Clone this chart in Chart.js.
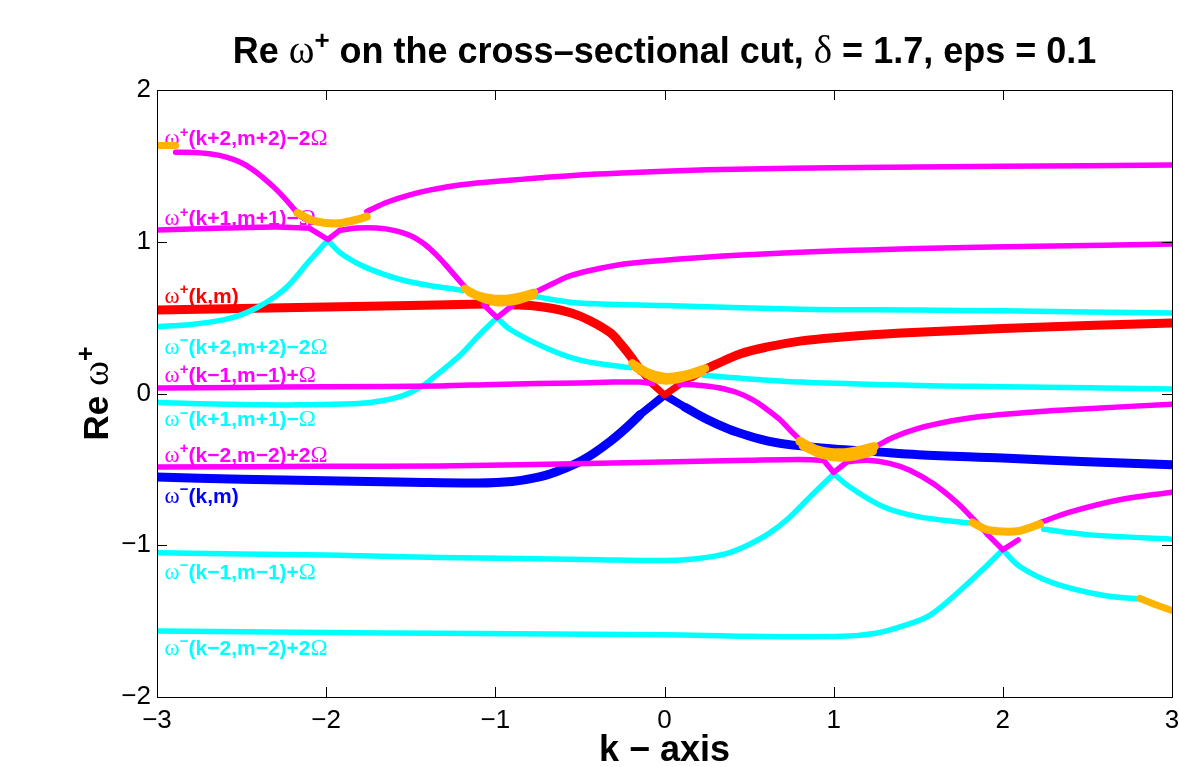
<!DOCTYPE html>
<html>
<head>
<meta charset="utf-8">
<script src="https://cdn.jsdelivr.net/npm/chart.js@4.4.1/dist/chart.umd.min.js"></script>
<style>
  html, body { margin: 0; padding: 0; background: #fff; }
  canvas { display: block; }
</style>
</head>
<body>
<canvas id="chart" width="1179" height="767"></canvas>
<script>
// ---- axis ticks ----
const xTickValues = [-3, -2, -1, 0, 1, 2, 3];
const xTickLabels = ['\u22123', '\u22122', '\u22121', '0', '1', '2', '3'];
const yTickValues = [-2, -1, 0, 1, 2];
const yTickLabels = ['\u22122', '\u22121', '0', '1', '2'];

// ---- branch values, [k, Re omega] ----
// omega+(k,m)
const redPlusA = [[-3, 0.55], [-2.5, 0.56], [-2, 0.57], [-1.5, 0.58], [-1.06, 0.59]];
const redPlusB = [[-0.9, 0.585], [-0.78, 0.578], [-0.66, 0.56], [-0.55, 0.53], [-0.44, 0.48], [-0.32, 0.40], [-0.25, 0.315], [-0.2, 0.245], [-0.14, 0.15]];
const redPlusV = [[-0.14, 0.15], [-0.07, 0.06], [0, -0.01], [0.09, 0.06], [0.16, 0.11]];
const redPlusC = [[0.16, 0.11], [0.23, 0.155], [0.3, 0.19], [0.45, 0.262], [0.6, 0.305], [0.8, 0.345], [1.0, 0.368], [1.4, 0.398], [2.0, 0.428], [2.5, 0.448], [3, 0.465]];
// omega-(k,m)
const blueMinusA = [[-3, -0.55], [-2.5, -0.565], [-2, -0.575], [-1.5, -0.585], [-1.1, -0.59], [-0.9, -0.58], [-0.76, -0.555], [-0.64, -0.515], [-0.52, -0.46], [-0.42, -0.395], [-0.32, -0.315], [-0.23, -0.23], [-0.145, -0.14]];
const blueMinusV = [[-0.145, -0.14], [0, -0.01], [0.12, -0.09]];
const blueMinusB = [[0.12, -0.09], [0.25, -0.17], [0.38, -0.235], [0.5, -0.28], [0.62, -0.315], [0.76, -0.34], [1.0, -0.365], [1.24, -0.383], [1.5, -0.403], [2.0, -0.425], [2.5, -0.45], [3, -0.47]];
// omega+(k+2,m+2)-2Omega
const magP2a = [[-2.89, 1.59], [-2.78, 1.588], [-2.68, 1.578], [-2.59, 1.558], [-2.51, 1.525], [-2.44, 1.48], [-2.37, 1.42], [-2.3, 1.35], [-2.24, 1.28], [-2.19, 1.215], [-2.15, 1.165]];
const magP2b = [[-1.76, 1.20], [-1.64, 1.26], [-1.5, 1.31], [-1.39, 1.34], [-1.2, 1.375], [-0.97, 1.40], [-0.5, 1.44], [0, 1.465], [0.5, 1.48], [1, 1.487], [2, 1.497], [3, 1.505]];
// omega+(k+1,m+1)-Omega
const magP1a = [[-3, 1.077], [-2.6, 1.09], [-2.3, 1.097], [-2.1, 1.09]];
const magP1V = [[-2.1, 1.09], [-1.99, 1.015], [-1.92, 1.075]];
const magP1b = [[-1.92, 1.075], [-1.82, 1.09], [-1.7, 1.09], [-1.6, 1.075], [-1.5, 1.04], [-1.42, 0.985], [-1.35, 0.915], [-1.28, 0.83], [-1.21, 0.74], [-1.17, 0.69]];
const magP1c = [[-0.77, 0.665], [-0.65, 0.73], [-0.56, 0.775], [-0.38, 0.825], [-0.2, 0.858], [0.2, 0.895], [0.8, 0.93], [1.5, 0.955], [2.2, 0.97], [3, 0.985]];
const magV1 = [[-1.07, 0.585], [-0.99, 0.50], [-0.9, 0.58]];
// omega+(k-1,m-1)+Omega
const magM1a = [[-3, 0.036], [-2.5, 0.04], [-2, 0.045], [-1.33, 0.05], [-1, 0.06], [-0.5, 0.07], [-0.3, 0.076], [-0.15, 0.075], [-0.07, 0.065]];
const magM1b = [[0.09, 0.06], [0.2, 0.055], [0.31, 0.04], [0.42, 0.01], [0.52, -0.04], [0.6, -0.1], [0.68, -0.17], [0.75, -0.25], [0.81, -0.315]];
const magM1c = [[1.24, -0.355], [1.35, -0.29], [1.5, -0.23], [1.7, -0.18], [1.88, -0.15], [2.2, -0.12], [2.5, -0.10], [3, -0.07]];
// omega+(k-2,m-2)+2Omega
const magM2a = [[-3, -0.484], [-2, -0.48], [-1.33, -0.477], [-0.38, -0.46], [0.5, -0.44], [0.8, -0.435], [0.94, -0.44]];
const magM2V = [[0.94, -0.44], [1.0, -0.52], [1.08, -0.45]];
const magM2b = [[1.08, -0.45], [1.2, -0.44], [1.33, -0.46], [1.45, -0.505], [1.59, -0.595], [1.73, -0.72], [1.81, -0.81], [1.87, -0.88], [1.91, -0.93]];
const magM2V2 = [[1.91, -0.93], [2.0, -1.03], [2.09, -0.965]];
const magM2c = [[2.22, -0.85], [2.4, -0.78], [2.69, -0.70], [3, -0.65]];
// omega-(k+2,m+2)-2Omega
const cyanP2a = [[-3, 0.44], [-2.8, 0.455], [-2.61, 0.485], [-2.5, 0.52], [-2.41, 0.565], [-2.3, 0.64], [-2.22, 0.715], [-2.11, 0.86], [-2.05, 0.935], [-1.99, 1.01]];
const cyanP2b = [[-1.99, 1.01], [-1.92, 0.93], [-1.82, 0.86], [-1.72, 0.81], [-1.55, 0.748], [-1.39, 0.712], [-1.19, 0.68]];
const cyanP2c = [[-0.77, 0.64], [-0.56, 0.602], [-0.38, 0.59], [0, 0.58], [0.8, 0.556], [1.5, 0.55], [2, 0.545], [3, 0.53]];
// omega-(k+1,m+1)-Omega
const cyanP1a = [[-3, -0.06], [-2.5, -0.073], [-2.2, -0.075], [-1.9, -0.07], [-1.72, -0.056], [-1.55, -0.015], [-1.43, 0.05], [-1.35, 0.12], [-1.21, 0.25], [-1.1, 0.38], [-0.99, 0.50]];
const cyanP1b = [[-0.99, 0.50], [-0.91, 0.42], [-0.68, 0.29], [-0.48, 0.215], [-0.2, 0.17]];
const cyanP1c = [[0.23, 0.12], [0.45, 0.10], [0.8, 0.075], [1.5, 0.052], [2.0, 0.045], [3, 0.03]];
// omega-(k-1,m-1)+Omega
const cyanM1a = [[-3, -1.05], [-2, -1.065], [-1.33, -1.08], [-0.38, -1.095], [-0.1, -1.1], [0.1, -1.097], [0.25, -1.08], [0.38, -1.05], [0.5, -0.995], [0.62, -0.92], [0.74, -0.815], [0.87, -0.67], [1.0, -0.53]];
const cyanM1b = [[1.0, -0.53], [1.1, -0.62], [1.29, -0.745], [1.49, -0.81], [1.77, -0.85], [1.82, -0.853]];
const cyanM1c = [[2.24, -0.895], [2.5, -0.93], [3, -0.96]];
// omega-(k-2,m-2)+2Omega
const cyanM2a = [[-3, -1.565], [-2, -1.575], [-1.33, -1.58], [0, -1.59], [0.5, -1.60], [1.05, -1.60], [1.25, -1.58], [1.4, -1.535], [1.57, -1.46], [1.77, -1.275], [1.9, -1.14], [2.0, -1.03]];
const cyanM2b = [[2.0, -1.03], [2.1, -1.14], [2.3, -1.25], [2.59, -1.33], [2.81, -1.355]];
// complex (merged) stretches
const cplxA = [[-3, 1.635], [-2.89, 1.635]];
const cplxB = [[-2.17, 1.19], [-2.08, 1.14], [-1.94, 1.12], [-1.84, 1.14], [-1.76, 1.165]];
const cplxC1 = [[-1.18, 0.69], [-1.1, 0.645], [-1.0, 0.625], [-0.9, 0.63], [-0.77, 0.665]];
const cplxC2 = [[-1.15, 0.665], [-1.06, 0.62], [-0.98, 0.60], [-0.88, 0.61], [-0.78, 0.645]];
const cplxD1 = [[-0.19, 0.2], [-0.1, 0.14], [0, 0.11], [0.1, 0.12], [0.24, 0.165]];
const cplxD2 = [[-0.17, 0.17], [-0.08, 0.11], [0, 0.085], [0.1, 0.10], [0.22, 0.14]];
const cplxE1 = [[0.8, -0.315], [0.9, -0.37], [1.0, -0.39], [1.1, -0.385], [1.24, -0.35]];
const cplxE2 = [[0.82, -0.345], [0.93, -0.40], [1.03, -0.42], [1.13, -0.41], [1.23, -0.38]];
const cplxF = [[1.82, -0.85], [1.9, -0.895], [2.0, -0.91], [2.1, -0.905], [2.22, -0.86]];
const cplxG = [[2.81, -1.35], [2.9, -1.39], [3.0, -1.43]];

// ---- branch labels ----
const branchLabels = ['\u03c9^+(k+2,m+2)\u22122\u03a9', '\u03c9^+(k+1,m+1)\u2212\u03a9', '\u03c9^+(k,m)',
  '\u03c9^\u2212(k+2,m+2)\u22122\u03a9', '\u03c9^+(k\u22121,m\u22121)+\u03a9', '\u03c9^\u2212(k+1,m+1)\u2212\u03a9',
  '\u03c9^+(k\u22122,m\u22122)+2\u03a9', '\u03c9^\u2212(k,m)', '\u03c9^\u2212(k\u22121,m\u22121)+\u03a9', '\u03c9^\u2212(k\u22122,m\u22122)+2\u03a9'];
const branchLabelY = [1.684, 1.157, 0.649, 0.313, 0.122, -0.168, -0.399, -0.669, -1.170, -1.672];
const branchLabelColors = ['#ff00ff', '#ff00ff', '#ff0000', '#00ffff', '#ff00ff', '#00ffff', '#ff00ff', '#0000ff', '#00ffff', '#00ffff'];

const titleText = 'Re \u03c9^+ on the cross\u2013sectional cut, \u03b4 = 1.7, eps = 0.1';
const xTitleText = 'k \u2212 axis';
const yTitleText = 'Re \u03c9^+';

const SANS = '"Liberation Sans", Arial, Helvetica, sans-serif';
const MAGENTA = '#ff00ff', CYAN = '#00ffff', RED = '#ff0000', BLUE = '#0000ff', ORANGE = '#ffb400';

function seg(points, color, width, smooth, order) {
  return {
    data: points.map(p => ({ x: p[0], y: p[1] })),
    borderColor: color,
    backgroundColor: color,
    borderWidth: width,
    pointRadius: 0,
    fill: false,
    tension: smooth ? 0.35 : 0,
    borderCapStyle: 'round',
    borderJoinStyle: 'round',
    order: order
  };
}

const datasets = [
  // complex stretches on top
  seg(cplxA, ORANGE, 7, false, 0), seg(cplxB, ORANGE, 8, true, 0),
  seg(cplxC1, ORANGE, 8, true, 0), seg(cplxC2, ORANGE, 8, true, 0),
  seg(cplxD1, ORANGE, 8, true, 0), seg(cplxD2, ORANGE, 8, true, 0),
  seg(cplxE1, ORANGE, 9, true, 0), seg(cplxE2, ORANGE, 9, true, 0),
  seg(cplxF, ORANGE, 8, true, 0), seg(cplxG, ORANGE, 7, true, 0),
  // shifted branches
  seg(magP2a, MAGENTA, 5.5, true, 1), seg(magP2b, MAGENTA, 5.5, true, 1),
  seg(magP1a, MAGENTA, 5.5, true, 1), seg(magP1V, MAGENTA, 5.5, false, 1), seg(magP1b, MAGENTA, 5.5, true, 1), seg(magP1c, MAGENTA, 5.5, true, 1),
  seg(magV1, MAGENTA, 5.5, false, 1),
  seg(magM1a, MAGENTA, 5.5, true, 1), seg(magM1b, MAGENTA, 5.5, true, 1), seg(magM1c, MAGENTA, 5.5, true, 1),
  seg(magM2a, MAGENTA, 5.5, true, 1), seg(magM2V, MAGENTA, 5.5, false, 1), seg(magM2b, MAGENTA, 5.5, true, 1),
  seg(magM2V2, MAGENTA, 5.5, false, 1), seg(magM2c, MAGENTA, 5.5, true, 1),
  seg(cyanP2a, CYAN, 5.5, true, 1), seg(cyanP2b, CYAN, 5.5, true, 1), seg(cyanP2c, CYAN, 5.5, true, 1),
  seg(cyanP1a, CYAN, 5.5, true, 1), seg(cyanP1b, CYAN, 5.5, true, 1), seg(cyanP1c, CYAN, 5.5, true, 1),
  seg(cyanM1a, CYAN, 5.5, true, 1), seg(cyanM1b, CYAN, 5.5, true, 1), seg(cyanM1c, CYAN, 5.5, true, 1),
  seg(cyanM2a, CYAN, 5.5, true, 1), seg(cyanM2b, CYAN, 5.5, true, 1),
  // principal branches
  seg(redPlusA, RED, 9, true, 2), seg(redPlusB, RED, 9, true, 2), seg(redPlusV, RED, 7, false, 2), seg(redPlusC, RED, 9, true, 2),
  seg(blueMinusA, BLUE, 9, true, 2), seg(blueMinusV, BLUE, 8, false, 2), seg(blueMinusB, BLUE, 9, true, 2)
];

// text with greek letters in a serif face and ^x superscripts
function richParts(str) {
  const parts = [];
  for (let i = 0; i < str.length; i++) {
    const ch = str[i];
    if (ch === '^') { parts.push({ t: str[++i], sup: true, greek: false }); continue; }
    const greek = '\u03c9\u03a9\u03b4'.includes(ch);
    const last = parts[parts.length - 1];
    if (last && !last.sup && !last.greek && !greek) last.t += ch;
    else parts.push({ t: ch, sup: false, greek });
  }
  return parts;
}
function drawRich(ctx, str, x, y, size, color, align) {
  const parts = richParts(str);
  const fontFor = p => p.greek ? `${Math.round(size * 1.08)}px "Liberation Serif", "DejaVu Serif", serif`
    : p.sup ? `bold ${Math.round(size * 0.72)}px ${SANS}` : `bold ${size}px ${SANS}`;
  let w = 0;
  for (const p of parts) { ctx.font = fontFor(p); p.w = ctx.measureText(p.t).width; w += p.w; }
  let cx = align === 'center' ? x - w / 2 : x;
  ctx.fillStyle = color;
  ctx.textAlign = 'left';
  ctx.textBaseline = 'alphabetic';
  for (const p of parts) {
    ctx.font = fontFor(p);
    ctx.fillText(p.t, cx, p.sup ? y - size * 0.4 : y);
    cx += p.w;
  }
}

const decorations = {
  id: 'decorations',
  beforeDatasetsDraw(chart) {
    const { ctx, scales: { x, y } } = chart;
    ctx.save();
    const lx = x.getPixelForValue(-2.955);
    branchLabels.forEach((s, i) => {
      const py = y.getPixelForValue(branchLabelY[i]);
      drawRich(ctx, s, lx, py + 7.5, 21, branchLabelColors[i], 'left');
    });
    ctx.restore();
  },
  afterDraw(chart) {
    const { ctx, chartArea: a, scales: { x, y } } = chart;
    ctx.save();
    // axes box
    ctx.strokeStyle = '#000';
    ctx.lineWidth = 1;
    ctx.strokeRect(Math.round(a.left) + 0.5, Math.round(a.top) + 0.5, Math.round(a.right - a.left), Math.round(a.bottom - a.top));
    // inward tick marks on all four sides
    const L = 10;
    ctx.beginPath();
    xTickValues.forEach(v => {
      const px = Math.round(x.getPixelForValue(v)) + 0.5;
      ctx.moveTo(px, a.bottom); ctx.lineTo(px, a.bottom - L);
      ctx.moveTo(px, a.top); ctx.lineTo(px, a.top + L);
    });
    yTickValues.forEach(v => {
      const py = Math.round(y.getPixelForValue(v)) + 0.5;
      ctx.moveTo(a.left, py); ctx.lineTo(a.left + L, py);
      ctx.moveTo(a.right, py); ctx.lineTo(a.right - L, py);
    });
    ctx.stroke();
    // titles
    const cx = (a.left + a.right) / 2;
    drawRich(ctx, titleText, cx, 63, 36, '#000', 'center');
    drawRich(ctx, xTitleText, cx, 761, 36, '#000', 'center');
    ctx.translate(108, (a.top + a.bottom) / 2);
    ctx.rotate(-Math.PI / 2);
    drawRich(ctx, yTitleText, 0, 0, 35, '#000', 'center');
    ctx.restore();
  }
};

new Chart(document.getElementById('chart'), {
  type: 'line',
  data: { datasets },
  options: {
    responsive: false,
    animation: false,
    devicePixelRatio: 1,
    events: [],
    layout: { padding: { top: 90, right: 7, left: 0, bottom: 0 } },
    plugins: { legend: { display: false }, tooltip: { enabled: false }, title: { display: false } },
    scales: {
      x: {
        type: 'linear', min: -3, max: 3,
        afterBuildTicks: s => { s.ticks = xTickValues.map(v => ({ value: v })); },
        afterFit: s => { s.height = 70; s.paddingLeft = 0; s.paddingRight = 0; },
        grid: { display: false, drawTicks: false },
        border: { display: false },
        ticks: {
          autoSkip: false, maxRotation: 0, padding: 8, color: '#000',
          font: { family: SANS, size: 26 },
          callback: (v, i) => xTickLabels[i]
        }
      },
      y: {
        type: 'linear', min: -2, max: 2,
        afterBuildTicks: s => { s.ticks = yTickValues.map(v => ({ value: v })); },
        afterFit: s => { s.width = 157; s.paddingTop = 0; s.paddingBottom = 0; },
        grid: { display: false, drawTicks: false },
        border: { display: false },
        ticks: {
          autoSkip: false, padding: 6, color: '#000',
          font: { family: SANS, size: 26 },
          callback: (v, i) => yTickLabels[i]
        }
      }
    }
  },
  plugins: [decorations]
});
</script>
</body>
</html>
